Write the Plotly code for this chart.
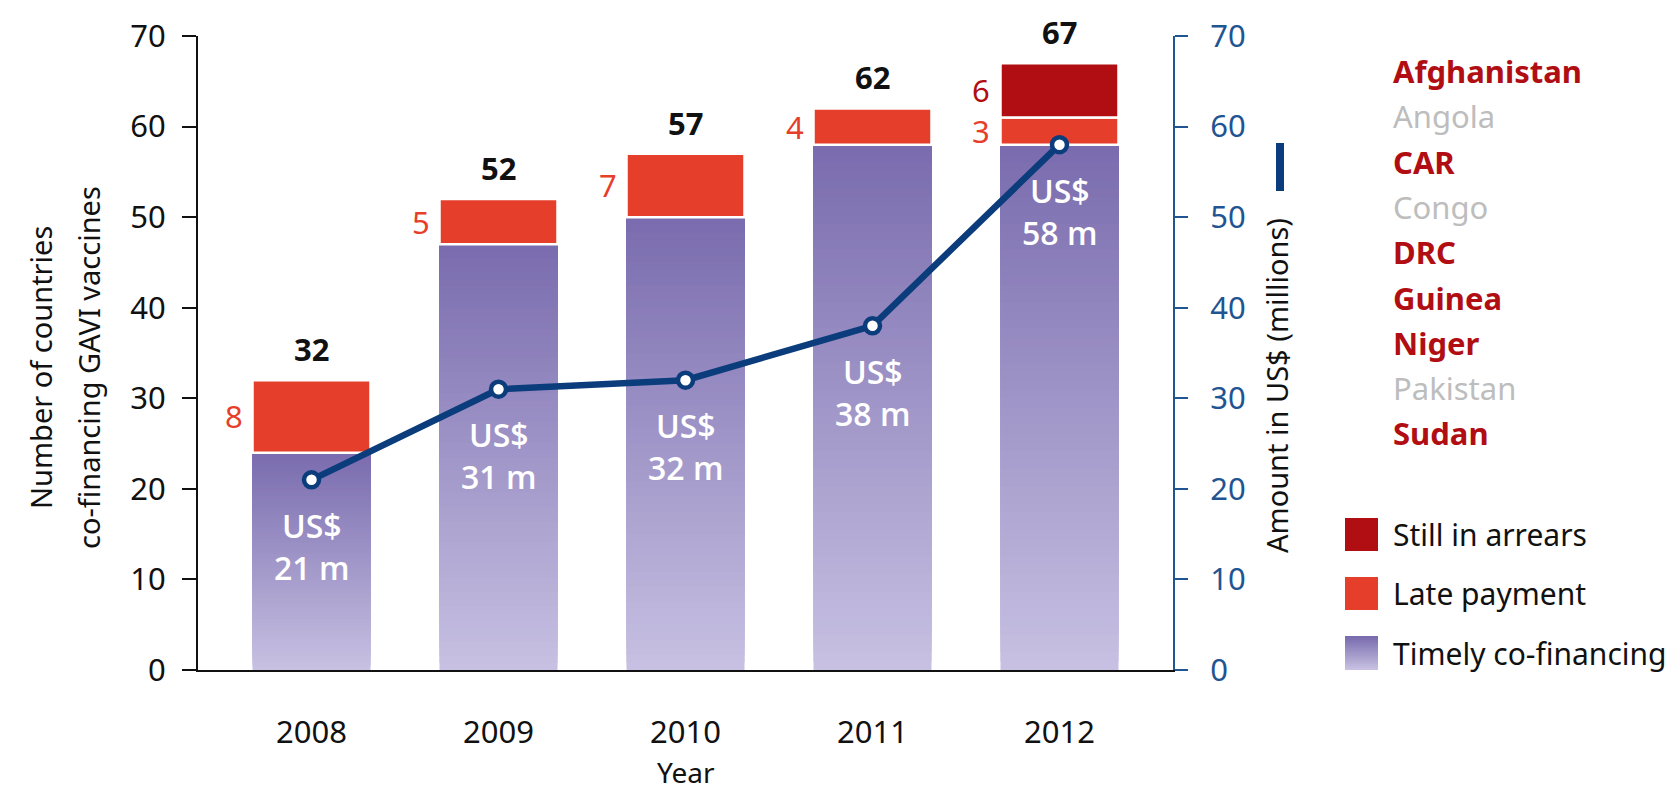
import plotly.graph_objects as go

# ---------------- data ----------------
years = ["2008", "2009", "2010", "2011", "2012"]
timely = [24, 47, 50, 58, 58]          # timely co-financing (countries)
late = [8, 5, 7, 4, 3]                 # late payment (countries)
arrears = [0, 0, 0, 0, 6]              # still in arrears (countries)
totals = [32, 52, 57, 62, 67]          # total countries co-financing
amount = [21, 31, 32, 38, 58]          # amount in US$ millions
y_ticks = [0, 10, 20, 30, 40, 50, 60, 70]
countries = ["Afghanistan", "Angola", "CAR", "Congo", "DRC",
             "Guinea", "Niger", "Pakistan", "Sudan"]
country_in_arrears = [True, False, True, False, True, True, True, False, True]
legend_labels = ["Still in arrears", "Late payment", "Timely co-financing"]

# ---------------- style ----------------
FONT = "Noto Sans"
TOP = (122, 108, 174)
BOTTOM = (199, 192, 226)
RED = "#E53F2B"
DARKRED = "#B00E12"
NAVY = "#0B3C7C"
AXNAVY = "#1F5592"
GREY = "#BDBDBD"
INK = "#111111"
BAR_W = 0.631
N = 60

W, H = 1673, 792
L, R, T, B = 190, 508, 28, 130
PW, PH = W - L - R, H - T - B


def px_x(px):
    return (px - L) / PW


def px_y(py):
    return (H - B - py) / PH


def lerp(c1, c2, t):
    return "rgb(%d,%d,%d)" % tuple(round(a + (b - a) * t) for a, b in zip(c1, c2))


xidx = list(range(len(years)))

fig = go.Figure()

# timely bars with a vertical gradient: overlapping slices, each drawn from its
# start up to the bar top, so the next slice covers the previous one (no seams)
xs, bases, hs, cols = [], [], [], []
for i, v in zip(xidx, timely):
    for k in range(N):
        b0 = v * k / N
        xs.append(i)
        bases.append(b0)
        hs.append(v - b0)
        cols.append(lerp(BOTTOM, TOP, k / (N - 1)))
fig.add_trace(go.Bar(x=xs, y=hs, base=bases, width=BAR_W,
                     marker=dict(color=cols, line=dict(width=0)),
                     name=legend_labels[2], hoverinfo="skip"))

# late payment
fig.add_trace(go.Bar(x=xidx, y=late, base=timely, width=BAR_W,
                     marker=dict(color=RED, line=dict(color="white", width=2.5)),
                     name=legend_labels[1]))

# still in arrears
ax_x = [i for i, a in zip(xidx, arrears) if a > 0]
ax_y = [a for a in arrears if a > 0]
ax_b = [t + l for t, l, a in zip(timely, late, arrears) if a > 0]
fig.add_trace(go.Bar(x=ax_x, y=ax_y, base=ax_b, width=BAR_W,
                     marker=dict(color=DARKRED, line=dict(color="white", width=2.5)),
                     name=legend_labels[0]))

# amount line
fig.add_trace(go.Scatter(x=xidx, y=amount, yaxis="y2", mode="lines+markers",
                         line=dict(color=NAVY, width=6.5),
                         marker=dict(size=15, color="white", line=dict(color=NAVY, width=4.5)),
                         name="Amount"))

ann = []
for i in xidx:
    ann.append(dict(x=i, y=totals[i], xref="x", yref="y", yshift=31,
                    xanchor="center", yanchor="middle",
                    text="<b>%d</b>" % totals[i], showarrow=False,
                    font=dict(family=FONT, size=31, color=INK)))
    ann.append(dict(x=i, y=timely[i] + late[i] / 2, xref="x", yref="y", xshift=-78,
                    xanchor="center", yanchor="middle",
                    text=str(late[i]), showarrow=False,
                    font=dict(family=FONT, size=31, color=RED)))
    if arrears[i] > 0:
        ann.append(dict(x=i, y=timely[i] + late[i] + arrears[i] / 2, xref="x", yref="y",
                        xshift=-78, xanchor="center", yanchor="middle",
                        text=str(arrears[i]), showarrow=False,
                        font=dict(family=FONT, size=31, color=DARKRED)))
    ann.append(dict(x=i, y=amount[i], xref="x", yref="y2", xanchor="center",
                    yanchor="top", yshift=-22,
                    text="US$<br>%d m" % amount[i], showarrow=False,
                    font=dict(family="Open Sans", size=32, color="white", weight=600)))

# axis titles
ann.append(dict(x=px_x(32), y=px_y(360), xref="paper", yref="paper", textangle=-90,
                xanchor="center", yanchor="middle",
                text="Number of countries", showarrow=False,
                font=dict(family=FONT, size=29, color=INK)))
ann.append(dict(x=px_x(80), y=px_y(360), xref="paper", yref="paper", textangle=-90,
                xanchor="center", yanchor="middle",
                text="co-financing GAVI vaccines", showarrow=False,
                font=dict(family=FONT, size=29, color=INK)))
ann.append(dict(x=px_x(1268), y=px_y(378), xref="paper", yref="paper", textangle=-90,
                xanchor="center", yanchor="middle",
                text="Amount in US$ (millions)", showarrow=False,
                font=dict(family=FONT, size=29, color=INK)))
ann.append(dict(x=0.5, y=px_y(764), xref="paper", yref="paper",
                xanchor="center", yanchor="middle",
                text="Year", showarrow=False,
                font=dict(family=FONT, size=28, color=INK)))

# country list
for i, (c, flag) in enumerate(zip(countries, country_in_arrears)):
    ann.append(dict(x=px_x(1383), y=px_y(63 + 45.3 * i), xref="paper", yref="paper",
                    xanchor="left", yanchor="middle",
                    text=("<b>%s</b>" % c) if flag else c, showarrow=False,
                    font=dict(family=FONT, size=31, color=DARKRED if flag else GREY)))

shapes = []
# line legend segment next to right axis title
shapes.append(dict(type="line", xref="paper", yref="paper",
                   x0=px_x(1272), x1=px_x(1272), y0=px_y(135), y1=px_y(183),
                   line=dict(color=NAVY, width=8)))

# custom legend
sw_x0, sw_x1 = px_x(1337), px_x(1370)
rows = [(510, 543, DARKRED), (569, 602, RED), (628, 662, None)]
for (t0, t1, col), lab in zip(rows, legend_labels):
    if col:
        shapes.append(dict(type="rect", xref="paper", yref="paper", x0=sw_x0, x1=sw_x1,
                           y0=px_y(t1), y1=px_y(t0), fillcolor=col, line=dict(width=0)))
    else:
        steps = 17
        for k in range(steps):
            a = t0 + (t1 - t0) * k / steps
            shapes.append(dict(type="rect", xref="paper", yref="paper", x0=sw_x0, x1=sw_x1,
                               y0=px_y(t1), y1=px_y(a),
                               fillcolor=lerp(TOP, BOTTOM, k / (steps - 1)),
                               line=dict(width=0)))
    ann.append(dict(x=px_x(1383), y=px_y((t0 + t1) / 2), xref="paper", yref="paper",
                    xanchor="left", yanchor="middle", text=lab, showarrow=False,
                    font=dict(family=FONT, size=30, color=INK)))

fig.update_layout(
    width=W, height=H,
    margin=dict(l=L, r=R, t=T, b=B, autoexpand=False),
    barmode="overlay",
    plot_bgcolor="white", paper_bgcolor="white",
    showlegend=False,
    font=dict(family=FONT, color=INK),
    xaxis=dict(range=[-0.607, 4.607], tickvals=xidx, ticktext=years,
               automargin=False,
               showline=True, linecolor=INK,
               linewidth=2, ticks="", showgrid=False, zeroline=False,
               tickfont=dict(family=FONT, size=31, color=INK),
               ticklabelstandoff=34),
    yaxis=dict(range=[0, 70], tickvals=y_ticks, showline=True, linecolor=INK,
               automargin=False,
               linewidth=2, ticks="outside", ticklen=14, tickwidth=2, tickcolor=INK,
               showgrid=False, zeroline=False, ticklabelstandoff=10,
               tickfont=dict(family=FONT, size=31, color=INK)),
    yaxis2=dict(range=[0, 70], tickvals=y_ticks, overlaying="y", side="right",
                automargin=False,
                showline=True, linecolor=AXNAVY, linewidth=2, ticks="outside",
                ticklen=13, tickwidth=2, tickcolor=AXNAVY, showgrid=False,
                zeroline=False, ticklabelstandoff=16,
                tickfont=dict(family=FONT, size=31, color=AXNAVY)),
    annotations=ann,
    shapes=shapes,
)

fig.write_html("out.html")
